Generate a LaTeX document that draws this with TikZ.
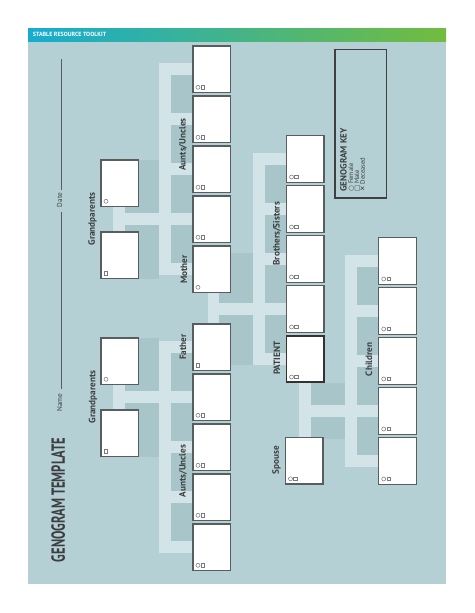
\documentclass[tikz,border=0pt]{standalone}
\usepackage{fontspec}
\setmainfont{PT Sans}
\newfontfamily\symfont{DejaVu Sans}
\definecolor{panel}{RGB}{180,208,212}
\definecolor{band}{RGB}{210,228,231}
\definecolor{darkr}{RGB}{168,198,202}
\definecolor{boxline}{RGB}{88,94,96}
\definecolor{txt}{RGB}{60,62,64}
\definecolor{symc}{RGB}{120,124,126}
\definecolor{hdrA}{RGB}{22,172,208}
\definecolor{hdrB}{RGB}{32,176,146}
\definecolor{hdrC}{RGB}{114,188,62}
\tikzset{
  gbox/.style={draw=boxline, line width=1.1pt, fill=white, minimum width=37.5pt, minimum height=46.5pt, inner sep=0pt, outer sep=0pt, anchor=north west},
  pbox/.style={gbox, draw=black!80, line width=1.6pt},
  sym/.style={draw=symc, line width=0.55pt},
  lbl/.style={rotate=90, text=txt, font=\fontsize{9.2}{10}\selectfont\bfseries, inner sep=0pt},
  bandf/.style={fill=band},
  darkf/.style={fill=darkr},
}
\newcommand\fem[1]{\draw[sym] ([shift={(5,-5.2)}]#1.south west) circle[radius=2];}
\newcommand\mal[1]{\draw[sym] ([shift={(8.1,-3.5)}]#1.south west) rectangle ([shift={(11.5,-6.9)}]#1.south west);}
\newcommand\malo[1]{\draw[sym] ([shift={(3.3,-3.5)}]#1.south west) rectangle ([shift={(6.7,-6.9)}]#1.south west);}
\newcommand\bth[1]{\fem{#1}\mal{#1}}
\begin{document}
\begin{tikzpicture}[x=1pt,y=-1pt]
\useasboundingbox (0,0) rectangle (474,613);
\fill[white] (0,0) rectangle (474,613);
\fill[panel] (28,41) rectangle (446,584);
\shade[left color=hdrA, middle color=hdrB, right color=hdrC] (28,28) rectangle (446,41);
\node[anchor=west, text=white, font=\fontsize{6}{7}\selectfont\bfseries, inner sep=0pt] (hdr) at (32.7,34.7) {STABLE RESOURCE TOOLKIT};

% ---------- bands and dark fills ----------
% mother side aunts/uncles
\fill[bandf] (159,63.3) rectangle (171,275.3);
\foreach \c in {69.3,119.3,169.3,219.3,269.3}{\fill[bandf] (159,\c-6) rectangle (194,\c+6);}
\foreach \a/\b in {69.3/119.3,119.3/169.3,169.3/219.3,219.3/269.3}{\fill[darkf] (171,\a+6) rectangle (194,\b-6);}
% mother's parents
\fill[bandf] (113,205) rectangle (125,233);
\fill[bandf] (113,213.3) rectangle (159,225.3);
\fill[darkf] (125,160) rectangle (159,213.3);
\fill[darkf] (125,225.3) rectangle (159,278.5);
% father side aunts/uncles
\fill[bandf] (159,341.3) rectangle (171,553.3);
\foreach \c in {347.3,397.3,447.3,497.3,547.3}{\fill[bandf] (159,\c-6) rectangle (194,\c+6);}
\foreach \a/\b in {347.3/397.3,397.3/447.3,447.3/497.3,497.3/547.3}{\fill[darkf] (171,\a+6) rectangle (194,\b-6);}
% father's parents
\fill[bandf] (113,383) rectangle (125,411);
\fill[bandf] (113,391.3) rectangle (159,403.3);
\fill[darkf] (125,338) rectangle (159,391.3);
\fill[darkf] (125,403.3) rectangle (159,456.5);
% parents
\fill[bandf] (207.5,292) rectangle (219,325);
\fill[bandf] (207.5,303) rectangle (253,315);
\fill[darkf] (219,253) rectangle (253,303);
\fill[darkf] (219,315) rectangle (253,365);
% siblings
\fill[bandf] (253,153) rectangle (264.5,365);
\foreach \c in {159,209,259,309,359}{\fill[bandf] (253,\c-6) rectangle (287,\c+6);}
\foreach \a/\b in {159/209,209/259,259/309,309/359}{\fill[darkf] (264.5,\a+6) rectangle (287,\b-6);}
% patient and spouse
\fill[bandf] (299,381) rectangle (311,439);
\fill[bandf] (299,405) rectangle (345,417);
\fill[darkf] (311,383) rectangle (345,405);
\fill[darkf] (311,417) rectangle (345,439);
% children
\fill[bandf] (345,255) rectangle (357,467);
\foreach \c in {261,311,361,411,461}{\fill[bandf] (345,\c-6) rectangle (379,\c+6);}
\foreach \a/\b in {261/311,311/361,361/411,411/461}{\fill[darkf] (357,\a+6) rectangle (379,\b-6);}

% ---------- boxes ----------
% mother column
\node[gbox] (am1) at (193,46) {};  \bth{am1}
\node[gbox] (am2) at (193,96) {};  \bth{am2}
\node[gbox] (am3) at (193,146) {}; \bth{am3}
\node[gbox] (am4) at (193,196) {}; \bth{am4}
\node[gbox] (mother) at (193,246) {}; \fem{mother}
% father column
\node[gbox] (father) at (193,324) {}; \malo{father}
\node[gbox] (af1) at (193,374) {}; \bth{af1}
\node[gbox] (af2) at (193,424) {}; \bth{af2}
\node[gbox] (af3) at (193,474) {}; \bth{af3}
\node[gbox] (af4) at (193,524) {}; \bth{af4}
% grandparents
\node[gbox] (gm1) at (101,160) {}; \fem{gm1}
\node[gbox] (gm2) at (101,232) {}; \malo{gm2}
\node[gbox] (gf1) at (101,338) {}; \fem{gf1}
\node[gbox] (gf2) at (101,410) {}; \malo{gf2}
% siblings
\node[gbox] (s1) at (286.5,135.7) {}; \bth{s1}
\node[gbox] (s2) at (286.5,185.7) {}; \bth{s2}
\node[gbox] (s3) at (286.5,235.7) {}; \bth{s3}
\node[gbox] (s4) at (286.5,285.7) {}; \bth{s4}
\node[pbox] (patient) at (286.5,335.7) {}; \bth{patient}
\node[gbox] (spouse) at (285.5,437.5) {}; \bth{spouse}
% children
\node[gbox] (c1) at (378.7,237.7) {}; \bth{c1}
\node[gbox] (c2) at (378.7,287.7) {}; \bth{c2}
\node[gbox] (c3) at (378.7,337.7) {}; \bth{c3}
\node[gbox] (c4) at (378.7,387.7) {}; \bth{c4}
\node[gbox] (c5) at (378.7,437.7) {}; \bth{c5}

% ---------- labels ----------
\node[lbl] (lgm) at (92.5,219) {Grandparents};
\node[lbl] (lgf) at (93,397) {Grandparents};
\node[lbl] (lam) at (183,144.5) {Aunts/Uncles};
\node[lbl] (lmo) at (184,269.5) {Mother};
\node[lbl] (lfa) at (183,347) {Father};
\node[lbl] (laf) at (183,471) {Aunts/Uncles};
\node[lbl] (lbs) at (277,233.7) {Brothers/Sisters};
\node[lbl] (lpa) at (277,358) {PATIENT};
\node[lbl] (lsp) at (276.5,460) {Spouse};
\node[lbl] (lch) at (369,359.5) {Children};

% ---------- title, name, date ----------
\node[rotate=90, text=txt, inner sep=0pt] (title) at (58.3,500) {\scalebox{0.66}[1]{\fontsize{19}{20}\selectfont\bfseries GENOGRAM TEMPLATE}};
\node[rotate=90, text=txt, inner sep=0pt, font=\fontsize{7.2}{8}\selectfont] (date) at (59.5,200) {Date};
\node[rotate=90, text=txt, inner sep=0pt, font=\fontsize{7.2}{8}\selectfont] (name) at (59.5,402.5) {Name};
\coordinate (ltop) at (61.5,59);
\coordinate (lbot) at (61.5,389);
\draw[boxline, line width=0.8pt] (ltop) -- (61.5,190);
\draw[boxline, line width=0.8pt] (61.5,211.5) -- (lbot);

% ---------- key ----------
\node[draw=black!75, line width=1.3pt, minimum width=51.7pt, minimum height=148.3pt, anchor=north west, inner sep=0pt] (key) at (334.3,49) {};
\node[rotate=90, anchor=west, text=txt, inner sep=0pt, font=\fontsize{9}{10}\selectfont\bfseries] (keyt) at (343.5,191.7) {GENOGRAM KEY};
\node[rotate=90, anchor=west, text=txt, inner sep=0pt, font=\fontsize{6.6}{7}\selectfont] (kf) at (351.3,191.7) {{\symfont ○} Female};
\node[rotate=90, anchor=west, text=txt, inner sep=0pt, font=\fontsize{6.6}{7}\selectfont] (km) at (357.1,191.7) {{\symfont □} Male};
\node[rotate=90, anchor=west, text=txt, inner sep=0pt, font=\fontsize{6.6}{7}\selectfont] (kd) at (362.6,191.7) {{\symfont\bfseries ✕} Deceased};
\end{tikzpicture}
\end{document}
